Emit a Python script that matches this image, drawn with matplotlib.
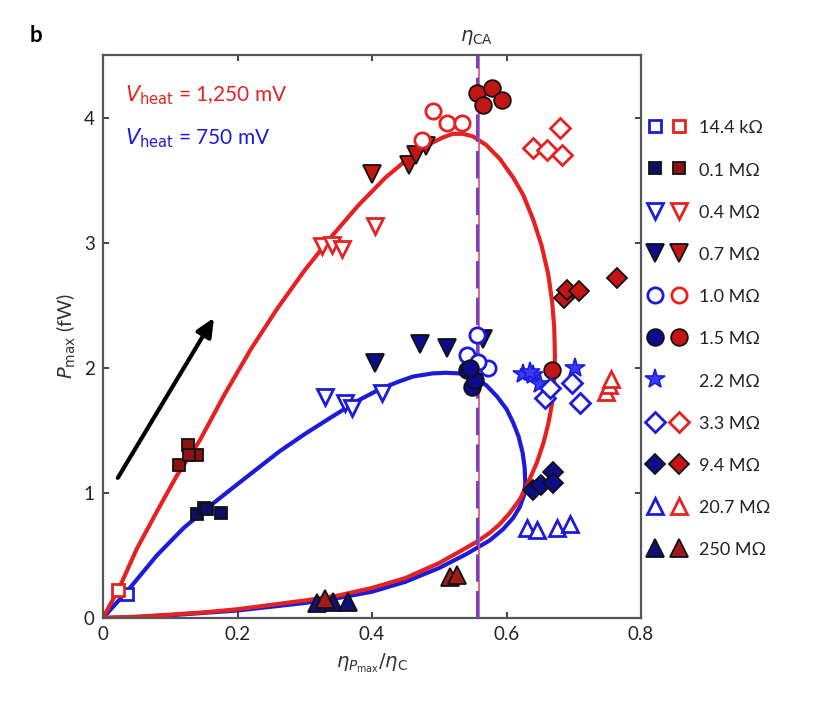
import matplotlib
matplotlib.use("Agg")
import matplotlib.pyplot as plt
from matplotlib.lines import Line2D
from matplotlib.legend_handler import HandlerTuple

plt.rcParams['font.family'] = ['Lato', 'DejaVu Sans']
plt.rcParams['mathtext.fontset'] = 'dejavusans'

# ---------------- data ----------------
ETA_CA = 0.556

# model curves (closed loops)
red_curve_x = [0, 0.01, 0.025, 0.05, 0.08, 0.11, 0.144, 0.18, 0.22, 0.26, 0.30, 0.34, 0.38, 0.42,
               0.46, 0.49, 0.505, 0.52, 0.535, 0.55, 0.57, 0.59, 0.61, 0.625, 0.64, 0.652, 0.662,
               0.668, 0.671, 0.672, 0.671, 0.668, 0.662, 0.655, 0.645, 0.632, 0.62, 0.605, 0.59,
               0.575, 0.556, 0.53, 0.50, 0.45, 0.40, 0.35, 0.30, 0.25, 0.20, 0.15, 0.10, 0.05, 0]
red_curve_y = [0, 0.1, 0.25, 0.55, 0.85, 1.14, 1.42, 1.78, 2.15, 2.48, 2.78, 3.05, 3.30, 3.52,
               3.70, 3.80, 3.84, 3.87, 3.87, 3.85, 3.78, 3.67, 3.52, 3.38, 3.18, 2.98, 2.75,
               2.52, 2.32, 2.10, 1.90, 1.72, 1.55, 1.40, 1.24, 1.08, 0.95, 0.84, 0.75,
               0.68, 0.61, 0.53, 0.44, 0.32, 0.24, 0.18, 0.14, 0.105, 0.07, 0.045, 0.027, 0.01, 0]

blue_curve_x = [0, 0.02, 0.04, 0.08, 0.12, 0.16, 0.20, 0.262, 0.30, 0.338, 0.38, 0.412, 0.44,
                0.461, 0.49, 0.51, 0.53, 0.55, 0.57, 0.586, 0.60, 0.61, 0.618, 0.624, 0.627,
                0.628, 0.626, 0.62, 0.61, 0.595, 0.575, 0.54, 0.50, 0.45, 0.40, 0.35, 0.30,
                0.20, 0.10, 0.05, 0]
blue_curve_y = [0, 0.12, 0.24, 0.50, 0.72, 0.90, 1.07, 1.33, 1.47, 1.60, 1.74, 1.83, 1.89,
                1.93, 1.955, 1.96, 1.955, 1.93, 1.86, 1.77, 1.67, 1.56, 1.45, 1.32, 1.20,
                1.08, 0.98, 0.89, 0.80, 0.71, 0.62, 0.51, 0.40, 0.29, 0.21, 0.16, 0.12,
                0.06, 0.022, 0.008, 0]

# measured points: blue = 750 mV, red = 1,250 mV
b144k_x, b144k_y = [0.035], [0.19]
r144k_x, r144k_y = [0.022], [0.22]
b01_x, b01_y = [0.14, 0.15, 0.155, 0.175], [0.83, 0.88, 0.87, 0.84]
r01_x, r01_y = [0.113, 0.127, 0.14, 0.128], [1.22, 1.38, 1.30, 1.30]
b04_x, b04_y = [0.33, 0.36, 0.37, 0.415], [1.77, 1.72, 1.68, 1.80]
r04_x, r04_y = [0.325, 0.34, 0.355, 0.405], [2.97, 2.98, 2.95, 3.13]
b07_x, b07_y = [0.405, 0.472, 0.512, 0.565], [2.04, 2.19, 2.16, 2.23]
r07_x, r07_y = [0.40, 0.455, 0.465, 0.48], [3.55, 3.62, 3.70, 3.77]
b10_x, b10_y = [0.556, 0.541, 0.572, 0.558], [2.26, 2.10, 2.00, 2.05]
r10_x, r10_y = [0.49, 0.475, 0.512, 0.534], [4.05, 3.82, 3.96, 3.96]
b15_x, b15_y = [0.541, 0.549, 0.553, 0.545], [1.98, 1.85, 1.90, 2.00]
r15_x, r15_y = [0.556, 0.578, 0.565, 0.593, 0.668], [4.20, 4.24, 4.10, 4.14, 1.98]
b22_x, b22_y = [0.625, 0.64, 0.65, 0.635, 0.702], [1.95, 1.94, 1.87, 1.97, 2.00]
b33_x, b33_y = [0.657, 0.697, 0.709, 0.665], [1.76, 1.88, 1.72, 1.84]
r33_x, r33_y = [0.639, 0.66, 0.68, 0.682], [3.76, 3.74, 3.92, 3.70]
b94_x, b94_y = [0.64, 0.652, 0.669, 0.669], [1.02, 1.06, 1.17, 1.08]
r94_x, r94_y = [0.685, 0.69, 0.708, 0.764], [2.56, 2.62, 2.61, 2.72]
b207_x, b207_y = [0.63, 0.645, 0.675, 0.695], [0.72, 0.70, 0.72, 0.75]
r207_x, r207_y = [0.748, 0.752, 0.755], [1.81, 1.86, 1.91]
b250_x, b250_y = [0.318, 0.342, 0.364], [0.12, 0.13, 0.13]
r250_x, r250_y = [0.33, 0.516, 0.526], [0.15, 0.33, 0.34]

legend_labels = ['14.4 kΩ', '0.1 MΩ', '0.4 MΩ', '0.7 MΩ', '1.0 MΩ', '1.5 MΩ',
                 '2.2 MΩ', '3.3 MΩ', '9.4 MΩ', '20.7 MΩ', '250 MΩ']

arrow_start = (0.022, 1.12)
arrow_end = (0.165, 2.40)

# ---------------- styles ----------------
BLUE = '#1c1cd8'
RED = '#e42222'
BLUE_F = '#0c0c8c'
RED_F = '#c41414'

def st_open(c, m, ms=10):
    return dict(marker=m, ms=ms, mfc='white', mec=c, mew=2.0, ls='none')

def st_fill(c, m, ms=11):
    return dict(marker=m, ms=ms, mfc=c, mec='#111111', mew=1.3, ls='none')

series = [
    (b144k_x, b144k_y, r144k_x, r144k_y, 's', 'open', 8),
    (b01_x, b01_y, r01_x, r01_y, 's', 'fill', 9),
    (b04_x, b04_y, r04_x, r04_y, 'v', 'open', 12),
    (b07_x, b07_y, r07_x, r07_y, 'v', 'fill', 13),
    (b10_x, b10_y, r10_x, r10_y, 'o', 'open', 11),
    (b15_x, b15_y, r15_x, r15_y, 'o', 'fill', 12),
    (b22_x, b22_y, None, None, '*', 'star', 15),
    (b33_x, b33_y, r33_x, r33_y, 'D', 'open', 10),
    (b94_x, b94_y, r94_x, r94_y, 'D', 'fill', 10),
    (b207_x, b207_y, r207_x, r207_y, '^', 'open', 12),
    (b250_x, b250_y, r250_x, r250_y, '^', 'fill', 13),
]

fig = plt.figure(figsize=(8.27, 7.01), dpi=100)
ax = fig.add_axes([103 / 827, 1 - 618 / 701, 538 / 827, 563 / 701])

ax.plot(blue_curve_x, blue_curve_y, color=BLUE, lw=3, zorder=2, solid_capstyle='round',
        solid_joinstyle='round')
ax.plot(red_curve_x, red_curve_y, color=RED, lw=3, zorder=2.1, solid_capstyle='round',
        solid_joinstyle='round')

ax.axvline(ETA_CA + 0.003, color='#e05070', lw=1.2, zorder=2.5)
ax.axvline(ETA_CA, color='#6a48c8', lw=2.2, dashes=(9, 3), zorder=2.6)

handles = []
for bx, by, rx, ry, m, kind, ms in series:
    if kind == 'open':
        sb, sr = st_open(BLUE, m, ms), st_open(RED, m, ms)
    elif kind == 'star':
        sb = dict(marker='*', ms=ms, mfc='#3a3aff', mec=BLUE, mew=1.2, ls='none')
        sr = None
    else:
        if m == 's':
            sb, sr = st_fill('#0e0e66', m, ms), st_fill('#8a1414', m, ms)
        elif m == '^':
            sb, sr = st_fill('#101078', m, ms), st_fill('#a01a1a', m, ms)
        else:
            sb, sr = st_fill(BLUE_F, m, ms), st_fill(RED_F, m, ms)
    ax.plot(bx, by, zorder=4, **sb)
    if sr is not None:
        ax.plot(rx, ry, zorder=4, **sr)
    hb = Line2D([], [], **sb)
    hr = Line2D([], [], **sr) if sr is not None else Line2D([], [], ls='none')
    handles.append((hb, hr))

ax.annotate('', xy=arrow_end, xytext=arrow_start,
            arrowprops=dict(arrowstyle='-|>,head_length=1.1,head_width=0.5', color='black', lw=3,
                            shrinkA=0, shrinkB=0), zorder=5)

ax.set_xlim(0, 0.8)
ax.set_ylim(0, 4.5)
ax.set_xticks([0, 0.2, 0.4, 0.6, 0.8])
ax.set_xticklabels(['0', '0.2', '0.4', '0.6', '0.8'])
ax.set_yticks([0, 1, 2, 3, 4])
ax.tick_params(direction='in', length=4, width=1.2, top=True, right=True,
               labelsize=13.5, colors='#222222', pad=6)
for s in ax.spines.values():
    s.set_color('#555555')
    s.set_linewidth(1.6)

ax.set_xlabel(r'$\eta_{P_{\rm max}}/\eta_{\rm C}$', fontsize=14, color='#333333', labelpad=6)
ax.set_ylabel(r'$P_{\rm max}$ (fW)', fontsize=14, color='#333333', labelpad=4)

ax.text(0.04, 0.928, r'$V_{\rm heat}$ = 1,250 mV', transform=ax.transAxes, color=RED,
        fontsize=15, va='center', ha='left')
ax.text(0.04, 0.853, r'$V_{\rm heat}$ = 750 mV', transform=ax.transAxes, color=BLUE,
        fontsize=15, va='center', ha='left')

ax.text(ETA_CA, 4.56, r'$\eta_{\rm CA}$', fontsize=14, color='#333333', ha='center', va='bottom')

fig.text(30 / 827, 1 - 35 / 701, 'b', fontsize=16, fontweight='bold', ha='left', va='center')

leg = ax.legend(handles, legend_labels, handler_map={tuple: HandlerTuple(ndivide=None, pad=0.3)},
                loc='upper left', bbox_to_anchor=(1.010, 0.886), frameon=False, borderpad=0,
                borderaxespad=0, fontsize=13, labelspacing=1.38, handlelength=2.3,
                handletextpad=0.6, handleheight=1.0)
for t in leg.get_texts():
    t.set_color('#222222')

fig.savefig('out.png', dpi=100)
